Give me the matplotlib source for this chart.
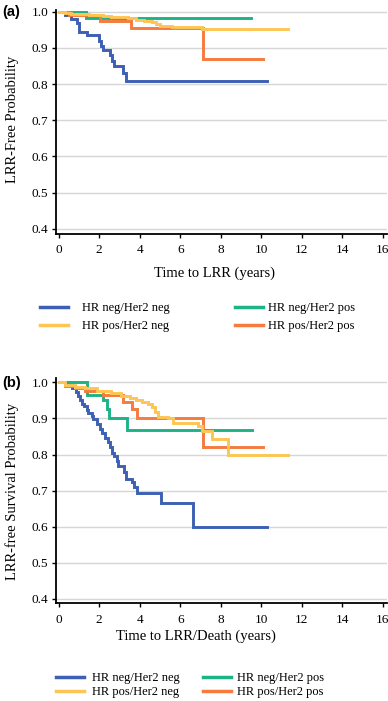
import matplotlib
matplotlib.use("Agg")
import matplotlib.pyplot as plt

SERIF = ["Liberation Serif", "DejaVu Serif"]
SANS = ["Liberation Sans", "DejaVu Sans"]

labels = ["HR neg/Her2 neg", "HR neg/Her2 pos", "HR pos/Her2 neg", "HR pos/Her2 pos"]
colors = ["#3d60b4", "#1db386", "#fdc553", "#f57b3e"]

# Panel (a): LRR-free probability (step times, values, end time)
a_blue_t = [0, 0.31, 0.61, 0.89, 1.0, 1.42, 1.99, 2.09, 2.2, 2.53, 2.65, 2.75, 3.19, 3.31, 10.27]
a_blue_s = [1.0, 0.991, 0.98, 0.97, 0.944, 0.935, 0.92, 0.906, 0.894, 0.88, 0.865, 0.85, 0.83, 0.81, 0.81]
a_green_t = [0, 1.37, 9.5]
a_green_s = [1.0, 0.983, 0.983]
a_yellow_t = [0, 0.3, 0.6, 1.0, 1.5, 2.2, 2.6, 3.4, 3.8, 4.2, 4.6, 4.8, 5.0, 5.6, 7.1, 11.3]
a_yellow_s = [1.0, 0.997, 0.995, 0.993, 0.99, 0.988, 0.985, 0.982, 0.978, 0.975, 0.972, 0.966, 0.961, 0.957, 0.953, 0.953]
a_orange_t = [0, 0.5, 2.04, 3.57, 7.11, 10.1]
a_orange_s = [1.0, 0.99, 0.974, 0.954, 0.869, 0.869]

# Panel (b): LRR-free survival probability
b_blue_t = [0, 0.39, 0.64, 0.85, 0.97, 1.05, 1.13, 1.27, 1.38, 1.46, 1.63, 1.71, 1.88, 2.04, 2.12,
            2.29, 2.42, 2.53, 2.65, 2.75, 2.86, 2.94, 3.24, 3.31, 3.64, 3.73, 3.85, 5.05, 6.65, 10.27]
b_blue_s = [1.0, 0.992, 0.983, 0.974, 0.963, 0.95, 0.94, 0.933, 0.924, 0.915, 0.906, 0.897, 0.885,
            0.87, 0.86, 0.847, 0.835, 0.82, 0.805, 0.795, 0.783, 0.767, 0.752, 0.731, 0.724, 0.71,
            0.694, 0.666, 0.6, 0.6]
b_green_t = [0, 1.38, 2.2, 2.37, 2.5, 3.36, 9.53]
b_green_s = [1.0, 0.965, 0.95, 0.925, 0.9, 0.868, 0.868]
b_yellow_t = [0, 0.3, 0.8, 1.3, 1.9, 2.6, 3.1, 3.5, 3.8, 4.1, 4.4, 4.6, 4.75, 4.9, 5.4, 5.65,
              6.9, 7.1, 7.55, 8.35, 11.3]
b_yellow_s = [1.0, 0.993, 0.988, 0.983, 0.977, 0.97, 0.963, 0.957, 0.95, 0.945, 0.94, 0.932,
              0.918, 0.905, 0.9, 0.888, 0.878, 0.865, 0.843, 0.8, 0.8]
b_orange_t = [0, 0.3, 0.8, 1.3, 2.2, 3.19, 3.6, 3.85, 7.15, 10.1]
b_orange_s = [1.0, 0.99, 0.983, 0.975, 0.965, 0.945, 0.925, 0.902, 0.822, 0.822]

xticks = [0, 2, 4, 6, 8, 10, 12, 14, 16]
yticks = [0.4, 0.5, 0.6, 0.7, 0.8, 0.9, 1.0]

W, H = 388, 701
fig = plt.figure(figsize=(W / 100, H / 100), dpi=100)


def fx(px):
    return px / W


def fy(py):
    return 1 - py / H


def make_panel(rect, series, ylim, ylabel, xlabel, xlab_pos, ylab_pos, tag, tag_y):
    ax = fig.add_axes(rect)
    handles = {}
    for (t, s), c, lab in series:
        ln, = ax.step(t, s, where="post", color=c, lw=2.1, label=lab, solid_joinstyle="miter")
        handles[lab] = ln
    ax.set_xlim(-0.15, 16.2)
    ax.set_ylim(*ylim)
    ax.set_xticks(xticks)
    ax.set_yticks(yticks)
    ax.set_xticklabels([str(v) for v in xticks], family=SERIF, fontsize=9.5)
    ax.set_yticklabels([f"{v:.1f}" for v in yticks], family=SERIF, fontsize=9.5)
    ax.yaxis.grid(True, color="#d6d6d6", lw=1.0)
    ax.set_axisbelow(True)
    for sp in ("top", "right"):
        ax.spines[sp].set_visible(False)
    for sp in ("left", "bottom"):
        ax.spines[sp].set_linewidth(1.3)
    ax.tick_params(axis="both", direction="out", length=3.0, width=1.0)
    ax.tick_params(axis="x", pad=4.5)
    ax.tick_params(axis="y", pad=2.5)
    ax.set_xlabel(xlabel, family=SERIF, fontsize=10.5)
    ax.set_ylabel(ylabel, family=SERIF, fontsize=10.5)
    ax.xaxis.set_label_coords(*xlab_pos)
    ax.yaxis.set_label_coords(*ylab_pos)
    ax.xaxis.label.set_va("center")
    ax.yaxis.label.set_va("center")
    fig.text(fx(2), fy(tag_y), tag, family=SANS, fontweight="bold", fontsize=10.5,
             ha="left", va="center")
    return ax, handles


# Panel (a)
axa, ha = make_panel(
    [fx(55.7), fy(233.5), fx(386.7) - fx(55.7), fy(10) - fy(233.5)],
    [((a_blue_t, a_blue_s), colors[0], labels[0]),
     ((a_green_t, a_green_s), colors[1], labels[1]),
     ((a_orange_t, a_orange_s), colors[3], labels[3]),
     ((a_yellow_t, a_yellow_s), colors[2], labels[2])],
    (0.387, 1.005), "LRR-Free Probability", "Time to LRR (years)",
    (0.481, -0.178), (-0.132, 0.51), "(a)", 12)

# Panel (b)
axb, hb = make_panel(
    [fx(55.7), fy(603.3), fx(386.7) - fx(55.7), fy(377.7) - fy(603.3)],
    [((b_blue_t, b_blue_s), colors[0], labels[0]),
     ((b_green_t, b_green_s), colors[1], labels[1]),
     ((b_orange_t, b_orange_s), colors[3], labels[3]),
     ((b_yellow_t, b_yellow_s), colors[2], labels[2])],
    (0.388, 1.0127), "LRR-free Survival Probability", "Time to LRR/Death (years)",
    (0.423, -0.148), (-0.132, 0.495), "(b)", 382.7)


def col_legend(handles, labs, x, y, hl, pad, spacing):
    lg = fig.legend([handles[l] for l in labs], labs, loc="upper left",
                    bbox_to_anchor=(fx(x), fy(y)), frameon=False, borderpad=0,
                    borderaxespad=0, handlelength=hl, handletextpad=pad,
                    labelspacing=spacing, prop={"family": SERIF, "size": 9})
    for ln in lg.get_lines():
        ln.set_linewidth(2.5)
    return lg


col_legend(ha, [labels[0], labels[2]], 40, 302, 2.25, 1.1, 0.5)
col_legend(ha, [labels[1], labels[3]], 235, 302, 2.25, 0.35, 0.5)
col_legend(hb, [labels[0], labels[2]], 56, 672, 2.2, 0.7, 0.2)
col_legend(hb, [labels[1], labels[3]], 203, 672, 2.2, 0.55, 0.2)

fig.savefig("out.png", dpi=100)
